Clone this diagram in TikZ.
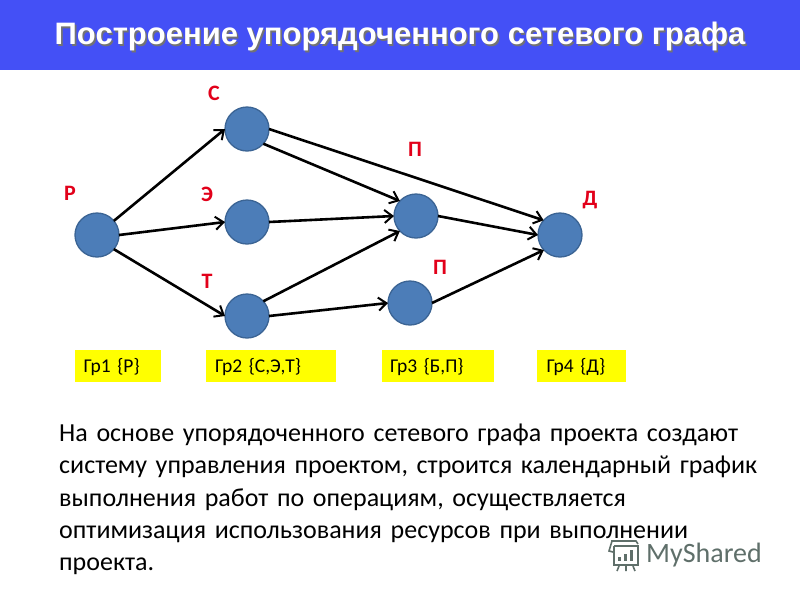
\documentclass[tikz,border=0pt]{standalone}
\usepackage{fontspec}
\setmainfont{Carlito}
\newfontfamily\titlefont{Liberation Sans}
\usetikzlibrary{arrows.meta}
\definecolor{banner}{HTML}{4450F6}
\definecolor{nodefill}{HTML}{4C7DB8}
\definecolor{nodeedge}{HTML}{3B6494}
\definecolor{labred}{HTML}{E2001A}
\definecolor{boxyellow}{HTML}{FFFF00}
\definecolor{wmark}{HTML}{5F6F6A}
\newcommand{\shadowed}[1]{\rlap{\kern1.6pt\raisebox{-1.8pt}{\textcolor{black!55}{#1}}}\textcolor{white}{#1}}
\tikzset{
  vertex/.style={circle,draw=nodeedge,line width=1.3pt,fill=nodefill,minimum size=44pt,inner sep=0pt,outer sep=0pt},
  link/.style={draw=black,line width=2.6pt,-{Straight Barb[length=8pt,width=13pt,line width=2pt]},shorten >=0pt},
  tag/.style={text=labred,font=\fontsize{22}{26}\selectfont\bfseries,inner sep=0pt},
  group/.style={fill=boxyellow,anchor=west,minimum height=32pt,inner sep=0pt,text height=14pt,text depth=2pt,align=left,font=\fontsize{19.5}{22}\selectfont},
}
\begin{document}
\begin{tikzpicture}[x=1pt,y=-1pt]
\useasboundingbox (0,0) rectangle (800,600);
\fill[white] (0,0) rectangle (800,600);
\fill[banner] (0,0) rectangle (800,70);
\node[font=\titlefont\fontsize{31}{36}\selectfont\bfseries,inner sep=0pt] (title) at (400,37.5) {\shadowed{Построение упорядоченного сетевого графа}};

\node[vertex] (R) at (97,235) {};
\node[vertex] (S) at (247,129) {};
\node[vertex] (E) at (247,222) {};
\node[vertex] (T) at (247,316) {};
\node[vertex] (B) at (416,216) {};
\node[vertex] (P) at (410,303) {};
\node[vertex] (D) at (560,235) {};

\draw[link] (R.40) -- (S.west);
\draw[link] (R.east) -- (E.west);
\draw[link] (R.-40) -- (T.west);
\draw[link] (S.east) -- (D.138);
\draw[link] (S.-42) -- (B.137);
\draw[link] (E.east) -- (B.west);
\draw[link] (T.42) -- (B.-137);
\draw[link] (T.east) -- (P.west);
\draw[link] (B.east) -- (D.west);
\draw[link] (P.east) -- (D.-137);

\node[tag] (lS) at (214,93) {С};
\node[tag] (lR) at (70,193) {Р};
\node[tag] (lE) at (207,194) {Э};
\node[tag] (lT) at (207,281) {Т};
\node[tag] (lP) at (415,149) {П};
\node[tag] (lQ) at (440,267) {П};
\node[tag] (lD) at (590,200) {Д};

\node[group,minimum width=86pt,inner xsep=8.5pt,text width=69pt] (g1) at (75,366) {Гр1 \{Р\}};
\node[group,minimum width=130pt,inner xsep=9pt,text width=112pt] (g2) at (206,366) {Гр2 \{С,Э,Т\}};
\node[group,minimum width=112pt,inner xsep=8pt,text width=96pt] (g3) at (382,366) {Гр3 \{Б,П\}};
\node[group,minimum width=89pt,inner xsep=9.5pt,text width=70pt] (g4) at (537,366) {Гр4 \{Д\}};

\node[anchor=north west,inner sep=0pt,text width=735pt,align=left,font=\fontsize{26}{32.2}\selectfont] (body) at (59,424) {На основе упорядоченного сетевого графа проекта создают\\
систему управления проектом, строится календарный график\\
выполнения работ по операциям, осуществляется\\
оптимизация использования ресурсов при выполнении\\
проекта.};

% watermark
\node[anchor=west,inner sep=0pt,text=wmark,font=\fontsize{28}{30}\selectfont] (wm) at (646,555) {MyShared};
\begin{scope}[wmark,line width=1.6pt]
\draw (611,541) -- (636,541) -- (638,544) (612,541) -- (609,551) -- (613,552) (614,546) -- (614,565) -- (638,565) -- (638,546) -- (614,546);
\fill (618,557) rectangle (621,561);
\fill (624,554) rectangle (627,561);
\fill (630,550) rectangle (633,561);
\draw (619,566) -- (617,571) (626,566) -- (626,571) (633,566) -- (635,571);
\end{scope}
\end{tikzpicture}
\end{document}
